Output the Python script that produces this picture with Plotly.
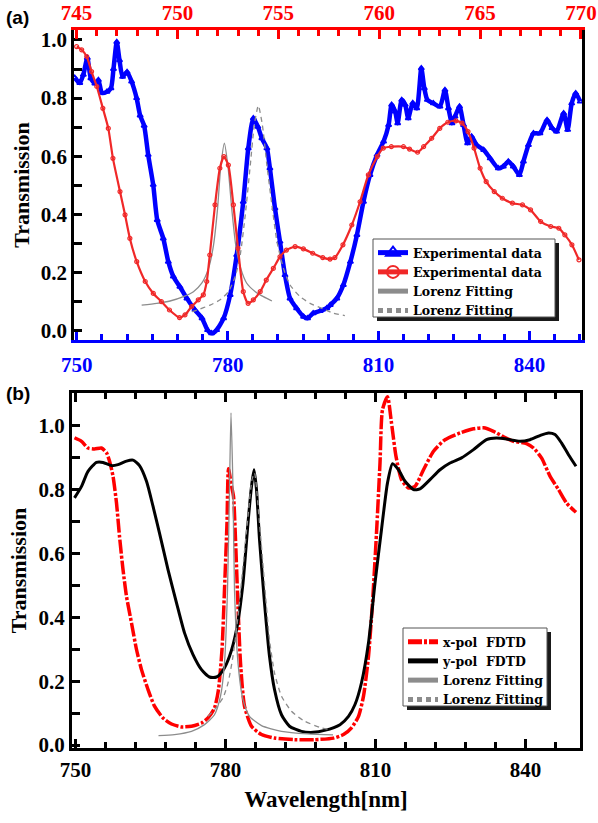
import plotly.graph_objects as go

# ---------------- Panel (a) data ----------------
# blue experimental data (bottom axis, nm)
blue_x = [749.6, 750.6, 751.3, 752.1, 752.8, 753.6, 754.3, 755.0, 756.0, 756.8, 757.3, 757.95,
          758.5, 759.1, 760.0, 760.9, 761.9, 762.6, 763.4, 764.2, 765.2, 766.0, 767.2, 768.2,
          769.2, 770.5, 771.9, 773.5, 774.9, 776.0, 776.8, 777.8, 779.2, 780.5, 781.8, 783.1,
          784.1, 785.1, 786.0, 786.8, 787.8, 788.4, 789.4, 790.4, 791.4, 792.4, 793.7, 795.1,
          795.9, 797.0, 798.4, 799.7, 800.4, 801.7, 803.0, 804.4, 805.7, 807.0, 808.3, 809.7,
          811.0, 812.0, 812.6, 813.3, 813.8, 814.6, 815.3, 815.9, 816.8, 817.6, 818.5, 819.1,
          819.7, 820.9, 822.2, 823.2, 823.9, 824.6, 825.2, 826.1, 826.9, 827.7, 828.5, 829.5,
          830.9, 832.2, 833.8, 834.8, 835.8, 836.8, 838.0, 838.8, 839.8, 840.8, 842.1, 843.5,
          844.5, 845.4, 846.8, 847.6, 848.4, 849.2, 850.1]
blue_y = [0.870, 0.852, 0.880, 0.938, 0.868, 0.850, 0.862, 0.818, 0.822, 0.834, 0.900, 0.993,
          0.930, 0.873, 0.890, 0.857, 0.800, 0.740, 0.705, 0.605, 0.502, 0.381, 0.318, 0.238,
          0.187, 0.152, 0.112, 0.072, 0.044, 0.003, -0.008, 0.003, 0.044, 0.124, 0.261, 0.444,
          0.628, 0.731, 0.702, 0.662, 0.628, 0.559, 0.422, 0.307, 0.192, 0.112, 0.078, 0.049,
          0.044, 0.061, 0.069, 0.078, 0.089, 0.112, 0.158, 0.238, 0.330, 0.444, 0.536, 0.605,
          0.651, 0.708, 0.777, 0.754, 0.714, 0.794, 0.777, 0.731, 0.783, 0.765, 0.903, 0.834,
          0.794, 0.782, 0.771, 0.828, 0.765, 0.714, 0.737, 0.771, 0.708, 0.645, 0.668, 0.639,
          0.622, 0.593, 0.559, 0.565, 0.582, 0.565, 0.536, 0.582, 0.639, 0.679, 0.679, 0.725,
          0.697, 0.685, 0.748, 0.691, 0.782, 0.817, 0.788]

# red experimental data (top axis, nm)
red_x = [745.0, 745.25, 745.5, 745.74, 746.0, 746.3, 746.57, 746.8, 747.15, 747.4, 747.64, 747.98,
         748.4, 748.8, 749.2, 749.6, 750.1, 750.37, 750.7, 751.03, 751.28, 751.45, 751.6, 751.86,
         752.1, 752.3, 752.52, 752.77, 753.0, 753.26, 753.5, 753.76, 754.1, 754.4, 754.75, 755.08,
         755.4, 755.83, 756.24, 756.7, 757.2, 757.56, 757.8, 758.2, 758.64, 759.05, 759.46, 759.9,
         760.2, 760.6, 761.2, 761.5, 761.9, 762.2, 762.6, 763.0, 763.4, 763.8, 764.1, 764.4,
         764.7, 765.0, 765.3, 765.7, 766.1, 766.6, 767.1, 767.5, 768.0, 768.5, 768.9, 769.2,
         769.55, 769.9]
red_y = [0.977, 0.966, 0.943, 0.891, 0.840, 0.765, 0.696, 0.593, 0.479, 0.399, 0.318, 0.238,
         0.170, 0.129, 0.101, 0.072, 0.046, 0.055, 0.084, 0.107, 0.124, 0.170, 0.261, 0.433,
         0.559, 0.599, 0.570, 0.433, 0.284, 0.135, 0.095, 0.107, 0.135, 0.175, 0.215, 0.255,
         0.278, 0.290, 0.282, 0.267, 0.252, 0.247, 0.252, 0.296, 0.364, 0.444, 0.536, 0.599,
         0.628, 0.633, 0.633, 0.625, 0.614, 0.633, 0.662, 0.696, 0.717, 0.722, 0.714, 0.685,
         0.628, 0.559, 0.513, 0.479, 0.456, 0.439, 0.433, 0.416, 0.376, 0.359, 0.353, 0.330,
         0.296, 0.244]

# Lorentz fits, panel (a) (bottom axis, nm)
fitA1_x = [762.9, 765.9, 768.55, 771.2, 773.2, 774.85, 776.2, 777.2, 778.0, 778.6, 779.35,
           780.1, 780.8, 781.6, 782.6, 783.8, 785.5, 787.1, 788.8]
fitA1_y = [0.089, 0.095, 0.103, 0.118, 0.135, 0.164, 0.215, 0.296, 0.422, 0.559, 0.645,
           0.559, 0.422, 0.296, 0.215, 0.164, 0.135, 0.118, 0.103]
fitA2_x = [771.2, 773.9, 776.5, 778.5, 780.15, 781.5, 782.5, 783.5, 784.5, 785.3, 786.1,
           786.9, 787.8, 788.8, 789.8, 791.1, 792.4, 794.4, 796.4, 799.0, 801.0, 803.3]
fitA2_y = [0.057, 0.072, 0.089, 0.107, 0.135, 0.187, 0.261, 0.399, 0.570, 0.708, 0.774,
           0.708, 0.570, 0.433, 0.307, 0.215, 0.158, 0.118, 0.095, 0.076, 0.061, 0.053]

# ---------------- Panel (b) data ----------------
xpol_x = [749.8, 751.2, 752.5, 753.8, 755.2, 756.2, 756.8, 757.5, 758.2, 758.8, 759.5, 760.2,
          761.2, 762.2, 763.2, 764.5, 765.8, 767.5, 769.2, 771.2, 773.2, 775.2, 776.5, 777.8,
          778.6, 779.3, 779.8, 780.3, 780.6, 781.2, 781.6, 782.0, 782.5, 783.0, 783.8, 785.2,
          787.2, 789.8, 793.8, 797.8, 801.6, 803.6, 805.2, 806.6, 807.6, 808.6, 809.4, 810.2,
          810.9, 811.4, 812.4, 813.2, 814.1, 815.2, 816.6, 817.9, 819.6, 821.6, 823.9, 826.9,
          829.6, 831.6, 833.6, 835.6, 837.6, 840.2, 841.6, 843.2, 844.9, 846.6, 848.2, 850.1]
xpol_y = [0.961, 0.950, 0.929, 0.926, 0.929, 0.914, 0.888, 0.841, 0.757, 0.653, 0.549, 0.465,
          0.382, 0.299, 0.236, 0.174, 0.122, 0.085, 0.066, 0.057, 0.059, 0.069, 0.085, 0.116,
          0.174, 0.299, 0.486, 0.695, 0.864, 0.810, 0.778, 0.643, 0.434, 0.257, 0.122, 0.059,
          0.033, 0.022, 0.017, 0.017, 0.022, 0.033, 0.054, 0.090, 0.153, 0.278, 0.445, 0.663,
          0.882, 1.049, 1.089, 1.007, 0.903, 0.830, 0.804, 0.809, 0.861, 0.919, 0.955, 0.976,
          0.989, 0.992, 0.981, 0.964, 0.950, 0.943, 0.929, 0.898, 0.841, 0.799, 0.757, 0.728]

ypol_x = [749.8, 751.2, 752.5, 754.2, 755.5, 757.2, 758.5, 760.2, 761.5, 762.8, 764.2, 765.5,
          766.8, 768.5, 770.2, 771.8, 773.5, 775.2, 776.8, 778.2, 779.5, 780.8, 782.2, 783.5,
          784.5, 785.2, 785.7, 786.2, 786.8, 787.8, 788.8, 789.8, 791.2, 792.8, 795.2, 797.5,
          799.8, 802.9, 804.6, 805.9, 807.2, 808.6, 809.9, 811.2, 812.4, 813.4, 814.6, 815.9,
          817.6, 818.9, 820.9, 822.9, 824.9, 827.2, 829.6, 832.2, 834.2, 836.2, 838.9, 840.9,
          842.9, 844.6, 845.9, 847.2, 848.6, 850.1]
ypol_y = [0.773, 0.809, 0.856, 0.884, 0.884, 0.874, 0.877, 0.888, 0.891, 0.874, 0.825, 0.747,
          0.663, 0.549, 0.445, 0.351, 0.283, 0.236, 0.213, 0.213, 0.234, 0.278, 0.361, 0.507,
          0.695, 0.809, 0.861, 0.799, 0.643, 0.445, 0.278, 0.174, 0.095, 0.059, 0.043, 0.040,
          0.046, 0.064, 0.090, 0.127, 0.195, 0.320, 0.507, 0.674, 0.820, 0.880, 0.861, 0.825,
          0.799, 0.801, 0.830, 0.861, 0.882, 0.898, 0.924, 0.955, 0.960, 0.957, 0.950, 0.955,
          0.968, 0.976, 0.971, 0.945, 0.908, 0.872]

fitB1_x = [766.6, 769.8, 773.2, 775.8, 777.8, 779.0, 779.8, 780.4, 780.8, 781.1, 781.5, 781.8,
           782.5, 783.5, 784.8, 787.2, 791.2, 796.5, 801.5]
fitB1_y = [0.030, 0.033, 0.043, 0.064, 0.095, 0.153, 0.257, 0.486, 0.799, 1.039, 0.799, 0.486,
           0.257, 0.142, 0.090, 0.061, 0.043, 0.035, 0.032]
fitB2_x = [776.5, 777.8, 779.5, 780.5, 781.5, 782.5, 783.5, 784.5, 785.3, 785.8, 786.8, 787.8,
           788.8, 789.8, 791.2, 793.2, 795.8, 799.2, 800.5]
fitB2_y = [0.090, 0.111, 0.148, 0.194, 0.278, 0.403, 0.559, 0.716, 0.830, 0.851, 0.695, 0.507,
           0.330, 0.226, 0.153, 0.106, 0.075, 0.054, 0.050]

legendA_names = ["Experimental data", "Experimental data", "Lorenz Fitting", "Lorenz Fitting"]
legendB_names = ["x-pol\u00a0\u00a0FDTD", "y-pol\u00a0\u00a0FDTD", "Lorenz Fitting", "Lorenz Fitting"]

# ---------------- styling ----------------
W, H = 598, 823
SERIF = "Liberation Serif"
LEGF = "DejaVu Serif"
BLUE = "#0000ff"
RED = "#ff0000"
GRAY = "#8c8c8c"

def px_x(p):
    return p / W

def px_y(p):
    return 1 - p / H

fig = go.Figure()

# Panel (a)
fig.add_trace(go.Scatter(x=blue_x, y=blue_y, xaxis="x", yaxis="y", name=legendA_names[0],
                         mode="lines+markers", legend="legend",
                         line=dict(color=BLUE, width=4.5, shape="spline", smoothing=0.6),
                         marker=dict(symbol="triangle-up-open", size=5, color=BLUE,
                                     line=dict(width=1.5, color=BLUE))))
fig.add_trace(go.Scatter(x=red_x, y=red_y, xaxis="x2", yaxis="y", name=legendA_names[1],
                         mode="lines+markers", legend="legend",
                         line=dict(color="#f02828", width=2.2, shape="spline", smoothing=0.6),
                         marker=dict(symbol="circle-open", size=4, color="#f02828",
                                     line=dict(width=1.2, color="#f02828"))))
fig.add_trace(go.Scatter(x=fitA1_x, y=fitA1_y, xaxis="x", yaxis="y", name=legendA_names[2],
                         mode="lines", legend="legend",
                         line=dict(color=GRAY, width=1.3, shape="spline", smoothing=0.6)))
fig.add_trace(go.Scatter(x=fitA2_x, y=fitA2_y, xaxis="x", yaxis="y", name=legendA_names[3],
                         mode="lines", legend="legend",
                         line=dict(color=GRAY, width=1.3, dash="5px,4px", shape="spline", smoothing=0.6)))

# Panel (b)
fig.add_trace(go.Scatter(x=xpol_x, y=xpol_y, xaxis="x3", yaxis="y3", name=legendB_names[0],
                         mode="lines", legend="legend2",
                         line=dict(color=RED, width=3.5, dash="14px,2px,3px,2px", shape="spline", smoothing=0.6)))
fig.add_trace(go.Scatter(x=ypol_x, y=ypol_y, xaxis="x3", yaxis="y3", name=legendB_names[1],
                         mode="lines", legend="legend2",
                         line=dict(color="black", width=3, shape="spline", smoothing=0.6)))
fig.add_trace(go.Scatter(x=fitB1_x, y=fitB1_y, xaxis="x3", yaxis="y3", name=legendB_names[2],
                         mode="lines", legend="legend2",
                         line=dict(color=GRAY, width=1.3, shape="spline", smoothing=0.6)))
fig.add_trace(go.Scatter(x=fitB2_x, y=fitB2_y, xaxis="x3", yaxis="y3", name=legendB_names[3],
                         mode="lines", legend="legend2",
                         line=dict(color=GRAY, width=1.3, dash="5px,4px", shape="spline", smoothing=0.6)))

def tickfont(c, s):
    return dict(family=SERIF, size=s, color=c, weight="bold")

domA_x = [px_x(74), px_x(582)]
domA_y = [px_y(340), px_y(30)]
domB_x = [px_x(72), px_x(580)]
domB_y = [px_y(748), px_y(393)]

# legend boxes (pixel rectangles) and their shadows
boxA = (373, 239, 555, 317)
boxB = (403, 628, 547, 706)

def box_shapes(b):
    x0, y0, x1, y1 = b
    return [
        dict(type="rect", xref="paper", yref="paper", x0=px_x(x0 + 4), x1=px_x(x1 + 4),
             y0=px_y(y1 + 4), y1=px_y(y0 + 4), fillcolor="#1a1a1a", line=dict(width=0),
             layer="above"),
        dict(type="rect", xref="paper", yref="paper", x0=px_x(x0), x1=px_x(x1),
             y0=px_y(y1), y1=px_y(y0), fillcolor="white", line=dict(width=1, color="#555"),
             layer="above"),
    ]

fig.update_layout(
    width=W, height=H,
    margin=dict(l=0, r=0, t=0, b=0),
    paper_bgcolor="white", plot_bgcolor="white",
    showlegend=True,
    xaxis=dict(domain=domA_x, anchor="y", range=[749.45, 850.45], showline=True, linecolor=BLUE,
               linewidth=3, mirror=False, ticks="inside", tickcolor=BLUE, tickwidth=2.5, ticklen=9,
               tick0=750, dtick=30, showgrid=False, zeroline=False, automargin=False,
               tickfont=tickfont(BLUE, 21), ticklabelstandoff=4,
               minor=dict(dtick=5, tick0=750, ticks="inside", ticklen=6, tickwidth=2.5,
                          tickcolor=BLUE, showgrid=False)),
    xaxis2=dict(overlaying="x", side="top", anchor="y", range=[744.87, 770.05], showline=True,
                linecolor=RED, linewidth=3, ticks="inside", tickcolor=RED, tickwidth=2.5, ticklen=9,
                tick0=745, dtick=5, showgrid=False, zeroline=False, automargin=False,
                tickfont=tickfont(RED, 21), ticklabelstandoff=-1,
                minor=dict(dtick=1, tick0=745, ticks="inside", ticklen=6, tickwidth=2.5,
                           tickcolor=RED, showgrid=False)),
    yaxis=dict(domain=domA_y, anchor="x", range=[-0.031, 1.034], showline=True, linecolor="black",
               linewidth=2.5, mirror=True, ticks="inside", tickcolor="black", tickwidth=2.5,
               ticklen=8, tick0=0, dtick=0.2, tickformat=".1f", showgrid=False, zeroline=False,
               automargin=False, tickfont=tickfont("black", 21),
               title=dict(text="Transmission", font=tickfont("black", 22), standoff=6),
               minor=dict(dtick=0.1, ticks="inside", ticklen=8, tickwidth=2.5,
                          tickcolor="black", showgrid=False)),
    xaxis3=dict(domain=domB_x, anchor="y3", range=[749.3, 850.9], showline=True, linecolor="black",
                linewidth=3, mirror="ticks", ticks="inside", tickcolor="black", tickwidth=2.5,
                ticklen=9, tick0=750, dtick=30, showgrid=False, zeroline=False, automargin=False,
                tickfont=tickfont("black", 21), ticklabelstandoff=1,
                title=dict(text="Wavelength[nm]", font=tickfont("black", 23), standoff=10),
                minor=dict(dtick=6, tick0=750, ticks="inside", ticklen=6, tickwidth=2.5,
                           tickcolor="black", showgrid=False)),
    yaxis3=dict(domain=domB_y, anchor="x3", range=[-0.009, 1.101], showline=True, linecolor="black",
                linewidth=3, mirror=True, ticks="inside", tickcolor="black", tickwidth=2.5,
                ticklen=8, tick0=0, dtick=0.2, tickformat=".1f", showgrid=False, zeroline=False,
                automargin=False, tickfont=tickfont("black", 21),
                title=dict(text="Transmission", font=tickfont("black", 22), standoff=6),
                minor=dict(dtick=0.1, ticks="inside", ticklen=8, tickwidth=2.5,
                           tickcolor="black", showgrid=False)),
    legend=dict(x=px_x(boxA[0]), y=px_y(boxA[1] - 1), xanchor="left", yanchor="top",
                bgcolor="rgba(0,0,0,0)", borderwidth=0, itemsizing="constant", tracegroupgap=0,
                font=dict(family=LEGF, size=12.5, color="black", weight="bold"),
                itemwidth=30),
    legend2=dict(x=px_x(boxB[0]), y=px_y(boxB[1] - 1), xanchor="left", yanchor="top",
                 bgcolor="rgba(0,0,0,0)", borderwidth=0, itemsizing="constant", tracegroupgap=0,
                 font=dict(family=LEGF, size=12.5, color="black", weight="bold"),
                 itemwidth=30),
    annotations=[
        dict(text="(a)", x=px_x(4), y=px_y(5), xref="paper", yref="paper", xanchor="left",
             yanchor="top", showarrow=False,
             font=dict(family="Liberation Sans", size=19, color="black", weight="bold")),
        dict(text="(b)", x=px_x(4), y=px_y(381), xref="paper", yref="paper", xanchor="left",
             yanchor="top", showarrow=False,
             font=dict(family="Liberation Sans", size=19, color="black", weight="bold")),
    ],
    shapes=box_shapes(boxA) + box_shapes(boxB),
)

fig.write_html("out.html", config={"displayModeBar": False},
               post_script="document.body.style.margin='0';document.body.style.padding='0';")
